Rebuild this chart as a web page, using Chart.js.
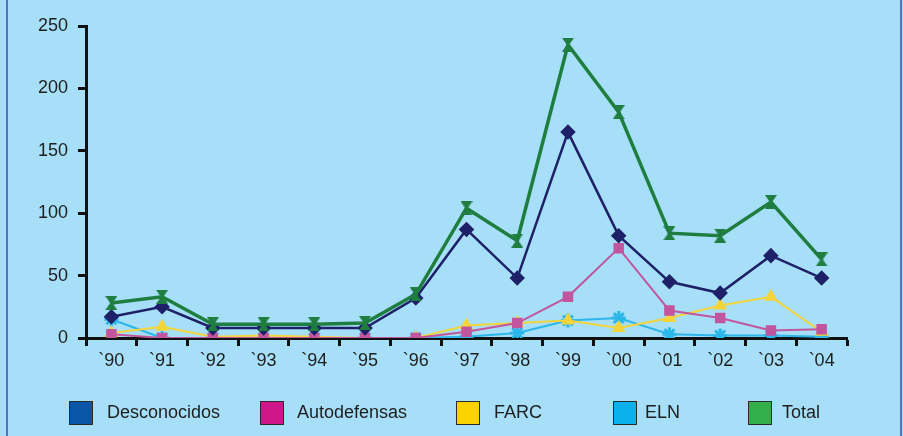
<!DOCTYPE html>
<html>
<head>
<meta charset="utf-8">
<script src="https://cdn.jsdelivr.net/npm/chart.js@4/dist/chart.umd.min.js"></script>
<style>
  html, body { margin: 0; padding: 0; background: #a6dff7; }
  #wrap { width: 903px; height: 436px; position: relative; }
  canvas { display: block; }
</style>
</head>
<body>
<div id="wrap"><canvas id="chart" width="903" height="436"></canvas></div>
<script>
// Years on the horizontal axis
const years = ["`90", "`91", "`92", "`93", "`94", "`95", "`96", "`97", "`98", "`99", "`00", "`01", "`02", "`03", "`04"];

// Series values per year
const desconocidos = [17, 25, 8, 8, 8, 8, 32, 87, 48, 165, 82, 45, 36, 66, 48];
const autodefensas = [3, 0, 0, 0, 0, 0, 0, 5, 12, 33, 72, 22, 16, 6, 7];
const farc = [4, 9, 1, 2, 1, 0, 0, 10, 12, 14, 8, 16, 26, 33, 5];
const eln = [15, 0, 0, 0, 0, 0, 0, 1, 4, 14, 16, 3, 2, 2, 1];
const total = [28, 33, 11, 11, 11, 12, 35, 104, 78, 235, 181, 84, 82, 109, 63];

// Vertical axis ticks
const yTicks = [0, 50, 100, 150, 200, 250];

const FONT = '"Liberation Sans", Arial, sans-serif';

// Hourglass marker used for the total line
function hourglass(color) {
  const c = document.createElement('canvas');
  c.width = 12; c.height = 14;
  const g = c.getContext('2d');
  g.fillStyle = color;
  g.beginPath();
  g.moveTo(0, 0); g.lineTo(12, 0); g.lineTo(7.2, 7); g.lineTo(12, 14);
  g.lineTo(0, 14); g.lineTo(4.8, 7); g.closePath();
  g.fill();
  return c;
}

// Legend swatches and their positions along the bottom strip
const legendSwatches = ['#0a56a6', '#cf1689', '#fbd100', '#0cb0ea', '#33ae4b'];
const legendBoxX = [69, 260, 456, 613, 748];
const legendTextX = [107, 297, 494, 645, 782];

const frame = {
  id: 'frame',
  beforeDraw(chart) {
    const ctx = chart.ctx;
    ctx.save();
    ctx.fillStyle = '#a6dff7';
    ctx.fillRect(0, 0, chart.width, chart.height);
    ctx.strokeStyle = '#5a6ec4';
    ctx.lineWidth = 2;
    ctx.beginPath();
    ctx.moveTo(7, 0); ctx.lineTo(7, chart.height);
    ctx.moveTo(901, 0); ctx.lineTo(901, chart.height);
    ctx.stroke();
    ctx.restore();
  },
  afterDraw(chart) {
    const ctx = chart.ctx;
    ctx.save();
    ctx.font = '18px ' + FONT;
    ctx.textBaseline = 'middle';
    ctx.textAlign = 'left';
    chart.data.datasets.forEach((ds) => {
      const k = ds.legendIndex;
      ctx.fillStyle = legendSwatches[k];
      ctx.fillRect(legendBoxX[k], 401, 24, 24);
      ctx.strokeStyle = '#2a2a2a';
      ctx.lineWidth = 1;
      ctx.strokeRect(legendBoxX[k] + 0.5, 401.5, 23, 23);
      ctx.fillStyle = '#1e1e1e';
      ctx.fillText(ds.label, legendTextX[k], 413);
    });
    ctx.restore();
  }
};

new Chart(document.getElementById('chart'), {
  type: 'line',
  data: {
    labels: years,
    datasets: [
      {
        label: 'Total', legendIndex: 4, data: total, order: 0,
        borderColor: '#1f7d40', backgroundColor: '#1f7d40', borderWidth: 3.5,
        pointStyle: hourglass('#1f7d40'), pointRadius: 6
      },
      {
        label: 'Desconocidos', legendIndex: 0, data: desconocidos, order: 1,
        borderColor: '#1e2168', backgroundColor: '#1e2168', borderWidth: 2.5,
        pointStyle: 'rectRot', pointRadius: 6
      },
      {
        label: 'Autodefensas', legendIndex: 1, data: autodefensas, order: 2,
        borderColor: '#c2569e', backgroundColor: '#c2569e', borderWidth: 2,
        pointStyle: 'rect', pointRadius: 6
      },
      {
        label: 'FARC', legendIndex: 2, data: farc, order: 3,
        borderColor: '#f3d43a', backgroundColor: '#f3d43a', borderWidth: 2,
        pointStyle: 'triangle', pointRadius: 6
      },
      {
        label: 'ELN', legendIndex: 3, data: eln, order: 4,
        borderColor: '#2cb6ea', backgroundColor: '#2cb6ea', borderWidth: 2,
        pointStyle: 'star', pointRadius: 7, pointBorderWidth: 3
      }
    ]
  },
  options: {
    responsive: false,
    animation: false,
    devicePixelRatio: 1,
    layout: { padding: { left: 0, right: 56, top: 26, bottom: 0 } },
    plugins: { legend: { display: false }, tooltip: { enabled: false } },
    elements: { line: { tension: 0 } },
    scales: {
      x: {
        offset: true,
        afterFit(scale) { scale.height = 98; },
        grid: {
          offset: true, drawOnChartArea: false, drawTicks: true,
          tickLength: 8, tickWidth: 3, tickColor: '#111'
        },
        border: { display: true, color: '#111', width: 3 },
        ticks: {
          color: '#1e1e1e', font: { family: FONT, size: 18 },
          padding: 4, maxRotation: 0, autoSkip: false
        }
      },
      y: {
        min: 0, max: 250,
        afterFit(scale) { scale.width = 86; },
        afterBuildTicks(scale) { scale.ticks = yTicks.map(v => ({ value: v })); },
        grid: {
          drawOnChartArea: false, drawTicks: true,
          tickLength: 8, tickWidth: 3, tickColor: '#111'
        },
        border: { display: true, color: '#111', width: 3 },
        ticks: {
          color: '#1e1e1e', font: { family: FONT, size: 18 }, padding: 10
        }
      }
    }
  },
  plugins: [frame]
});
</script>
</body>
</html>
